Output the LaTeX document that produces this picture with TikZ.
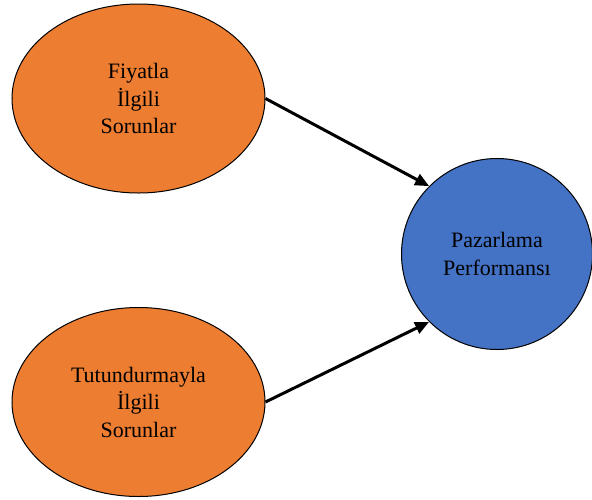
\documentclass[tikz,border=0pt]{standalone}
\usepackage{fontspec}
\setmainfont{Liberation Serif}
\usetikzlibrary{shapes.geometric,arrows.meta}
\definecolor{orng}{HTML}{ED7D31}
\definecolor{blu}{HTML}{4472C4}
\tikzset{
  oval/.style={ellipse,draw=black,line width=1pt,fill=orng,minimum width=253pt,minimum height=189pt,inner sep=0pt,align=center,font=\fontsize{22}{27.5}\selectfont},
  rund/.style={circle,draw=black,line width=1pt,fill=blu,minimum size=191pt,inner sep=0pt,align=center,font=\fontsize{22}{27.5}\selectfont},
  conn/.style={line width=3pt,-{Triangle[length=14pt,width=12pt]}}
}
\begin{document}
\begin{tikzpicture}[x=1pt,y=-1pt]
\useasboundingbox (0,0) rectangle (592,499);
\node[oval] (a) at (138.5,98.5) {Fiyatla\\İlgili\\Sorunlar};
\node[oval] (b) at (138.5,402) {Tutundurmayla\\İlgili\\Sorunlar};
\node[rund] (c) at (497,254) {Pazarlama\\Performansı};
\draw[conn] (a.east) -- (c.135);
\draw[conn] (b.east) -- (c.225);
\end{tikzpicture}
\end{document}
